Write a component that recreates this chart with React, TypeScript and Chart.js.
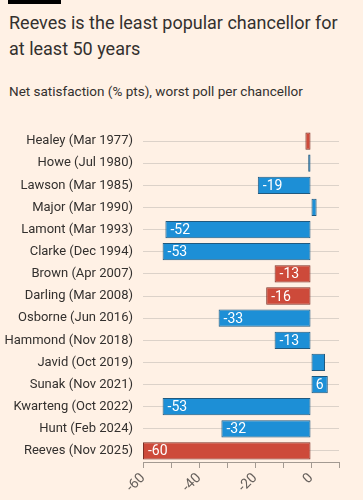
import React, { useEffect, useRef } from "react";
import { Chart, registerables } from "chart.js";

Chart.register(...registerables);

const chancellors = [
  "Healey (Mar 1977)",
  "Howe (Jul 1980)",
  "Lawson (Mar 1985)",
  "Major (Mar 1990)",
  "Lamont (Mar 1993)",
  "Clarke (Dec 1994)",
  "Brown (Apr 2007)",
  "Darling (Mar 2008)",
  "Osborne (Jun 2016)",
  "Hammond (Nov 2018)",
  "Javid (Oct 2019)",
  "Sunak (Nov 2021)",
  "Kwarteng (Oct 2022)",
  "Hunt (Feb 2024)",
  "Reeves (Nov 2025)",
];
const netSatisfaction = [-2, -1, -19, 2, -52, -53, -13, -16, -33, -13, 5, 6, -53, -32, -60];
const party = ["Lab", "Con", "Con", "Con", "Con", "Con", "Lab", "Lab", "Con", "Con", "Con", "Con", "Con", "Con", "Lab"];
const axisLabels = [-60, -40, -20, 0];

const FONT = "Roboto, 'Noto Sans', sans-serif";
const BG = "#fff1e5";
const TEXT = "#33302e";
const BLUE = "#1d8fd6";
const BLUE_EDGE = "#20597f";
const RED = "#cd4a3a";
const RED_EDGE = "#7d2f25";

const labelPlugin = {
  id: "barLabels",
  afterDatasetsDraw(chart: any) {
    const ctx = chart.ctx;
    const meta = chart.getDatasetMeta(0);
    ctx.save();
    ctx.font = `14px ${FONT}`;
    ctx.fillStyle = "#ffffff";
    ctx.textBaseline = "middle";
    meta.data.forEach((el: any, i: number) => {
      const v = netSatisfaction[i];
      const txt = String(v);
      const tw = ctx.measureText(txt).width;
      const left = Math.min(el.x, el.base);
      const right = Math.max(el.x, el.base);
      const w = right - left;
      if (w < tw + 6) return;
      if (v < 0) {
        ctx.textAlign = "left";
        ctx.fillText(txt, left + 5, el.y + 1);
      } else {
        ctx.textAlign = "center";
        ctx.fillText(txt, (left + right) / 2, el.y + 1);
      }
    });
    ctx.restore();
  },
};

export default function App() {
  const ref = useRef<HTMLCanvasElement>(null);

  useEffect(() => {
    document.documentElement.style.background = BG;
    document.body.style.background = BG;
    document.body.style.margin = "0";
    const chart = new Chart(ref.current!, {
      type: "bar",
      data: {
        labels: chancellors,
        datasets: [
          {
            data: netSatisfaction,
            backgroundColor: party.map((p) => (p === "Lab" ? RED : BLUE)),
            borderColor: party.map((p) => (p === "Lab" ? RED_EDGE : BLUE_EDGE)),
            borderWidth: 1,
            borderSkipped: false,
            categoryPercentage: 1,
            barPercentage: 0.78,
          },
        ],
      },
      options: {
        indexAxis: "y",
        animation: false,
        responsive: false,
        maintainAspectRatio: false,
        layout: { padding: { top: 20, right: 24, left: 0, bottom: 0 } },
        plugins: { legend: { display: false }, tooltip: { enabled: false } },
        scales: {
          x: {
            min: -60,
            max: 10,
            afterFit: (s: any) => {
              s.height = 38;
            },
            ticks: {
              stepSize: 10,
              autoSkip: false,
              minRotation: 45,
              maxRotation: 45,
              color: "#66605c",
              font: { family: FONT, size: 14 },
              padding: 2,
              callback: (v: any) => (axisLabels.includes(Number(v)) ? String(v) : ""),
            },
            grid: {
              drawOnChartArea: false,
              drawTicks: true,
              tickLength: 6,
              color: "#a39a92",
            },
            border: { display: true, color: "#a39a92" },
          },
          y: {
            afterFit: (s: any) => {
              s.width = 143;
            },
            ticks: {
              color: TEXT,
              font: { family: FONT, size: 13 },
              padding: 10,
            },
            grid: {
              offset: false,
              drawTicks: false,
              color: "#dcd2c9",
            },
            border: { display: false },
          },
        },
      },
      plugins: [labelPlugin],
    });
    return () => chart.destroy();
  }, []);

  return (
    <div style={{ position: "relative", width: 363, height: 500, background: BG, fontFamily: FONT, color: TEXT }}>
      <div style={{ position: "absolute", left: 8, top: 0, width: 53, height: 4, background: "#000" }} />
      <div style={{ position: "absolute", left: 9, top: 10, fontSize: 18, lineHeight: "26px", whiteSpace: "nowrap" }}>
        Reeves is the least popular chancellor for
        <br />
        at least 50 years
      </div>
      <div style={{ position: "absolute", left: 9, top: 81, fontSize: 13.5, lineHeight: "20px", whiteSpace: "nowrap" }}>
        Net satisfaction (% pts), worst poll per chancellor
      </div>
      <canvas ref={ref} width={363} height={390} style={{ position: "absolute", left: 0, top: 110, width: 363, height: 390 }} />
    </div>
  );
}
